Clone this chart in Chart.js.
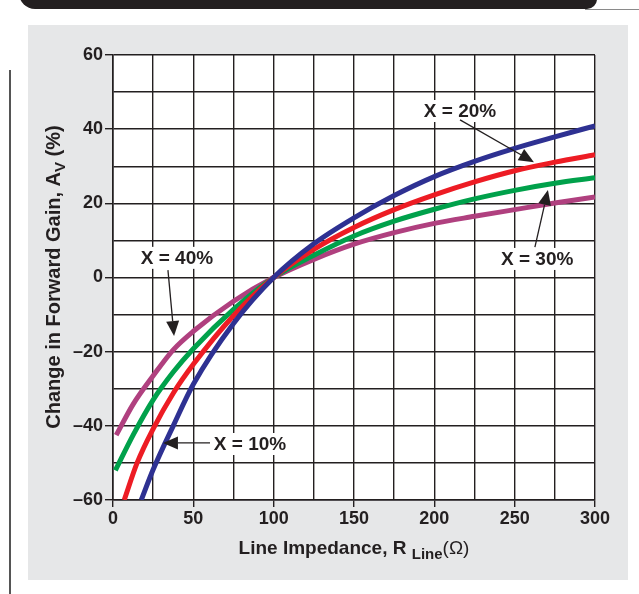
<!DOCTYPE html>
<html>
<head>
<meta charset="utf-8">
<script src="https://cdn.jsdelivr.net/npm/chart.js@4"></script>
<style>
  body { margin: 0; background: #fff; }
  #wrap { position: relative; width: 639px; height: 594px; overflow: hidden; }
  .header { position: absolute; left: 19px; top: -12px; width: 578px; height: 21px; background: #231f20; border-radius: 0 0 10px 16px; }
  .rule { position: absolute; left: 585px; top: 9px; width: 54px; height: 1px; background: #8a8a8a; }
  .panel { position: absolute; left: 28px; top: 25px; width: 600px; height: 555px; background: #e6e7e8; }
  .side { position: absolute; left: 9px; top: 70px; width: 2px; height: 524px; background: #555; }
  canvas { position: absolute; left: 0; top: 0; }
</style>
</head>
<body>
<div id="wrap">
  <div class="header"></div>
  <div class="rule"></div>
  <div class="panel"></div>
  <div class="side"></div>
  <canvas id="gainChart" width="639" height="594"></canvas>
</div>
<script>
// Line impedance (ohm) and change in gain (%) for each X value
const r10 = [17.6, 25, 37.5, 50, 75, 100, 125, 150, 175, 200, 225, 250, 275, 300];
const a10 = [-60, -51.8, -40, -28.8, -12.4, 0, 9.1, 16.1, 22.1, 27.2, 31.3, 34.8, 37.9, 40.9];

const r20 = [7, 15, 25, 37.5, 50, 75, 100, 125, 150, 175, 200, 225, 250, 275, 300];
const a20 = [-60, -50, -40.8, -31.2, -23.4, -10.3, 0, 7.6, 13.5, 18.3, 22.3, 25.8, 28.8, 31.1, 33.1];

const r30 = [1.5, 12.5, 25, 37.5, 50, 75, 100, 125, 150, 175, 200, 225, 250, 275, 300];
const a30 = [-52, -42.5, -33, -25.5, -19.2, -8.6, 0, 6.0, 11.2, 15.2, 18.4, 21.2, 23.5, 25.4, 26.9];

const r40 = [2, 12.5, 25, 37.5, 50, 75, 100, 125, 150, 175, 200, 225, 250, 275, 300];
const a40 = [-42.5, -34.2, -26.5, -19.5, -14.5, -6.4, 0, 4.9, 9.0, 12.1, 14.6, 16.5, 18.3, 20.1, 21.7];

const xTicks = [0, 50, 100, 150, 200, 250, 300];
const yTicks = [-60, -40, -20, 0, 20, 40, 60];

const ink = '#231f20';
const face = '"Liberation Sans", Arial, sans-serif';
const pair = (xs, ys) => xs.map((x, i) => ({ x: x, y: ys[i] }));

function series(label, xs, ys, color) {
  return {
    label: label,
    data: pair(xs, ys),
    borderColor: color,
    borderWidth: 5,
    pointRadius: 0,
    fill: false,
    cubicInterpolationMode: 'monotone'
  };
}

// callouts in data units: label centre, arrow start, arrow tip
const notes = [
  { text: 'X = 20%', at: [216, 44.9], from: [216, 42.5], to: [262, 31.1] },
  { text: 'X = 30%', at: [264, 5], from: [262.6, 8.2], to: [270.7, 23.6] },
  { text: 'X = 40%', at: [39.8, 5.3], from: [34.2, 2], to: [38, -15.8] },
  { text: 'X = 10%', at: [85.3, -44.9], from: [60.4, -44.6], to: [31.1, -44.6] }
];

const plotBg = {
  id: 'plotBg',
  beforeDraw(chart) {
    const { ctx, chartArea: a } = chart;
    ctx.save();
    ctx.fillStyle = '#fff';
    ctx.fillRect(a.left, a.top, a.right - a.left, a.bottom - a.top);
    ctx.restore();
  }
};

function arrow(ctx, x1, y1, x2, y2) {
  const ang = Math.atan2(y2 - y1, x2 - x1);
  const len = 15, half = 6.5;
  ctx.beginPath();
  ctx.moveTo(x1, y1);
  ctx.lineTo(x2 - Math.cos(ang) * len, y2 - Math.sin(ang) * len);
  ctx.stroke();
  ctx.beginPath();
  ctx.moveTo(x2, y2);
  ctx.lineTo(x2 - Math.cos(ang) * len - Math.sin(ang) * half, y2 - Math.sin(ang) * len + Math.cos(ang) * half);
  ctx.lineTo(x2 - Math.cos(ang) * len + Math.sin(ang) * half, y2 - Math.sin(ang) * len - Math.cos(ang) * half);
  ctx.closePath();
  ctx.fill();
}

const extras = {
  id: 'extras',
  afterDraw(chart) {
    const { ctx, scales: { x, y }, chartArea: a } = chart;
    ctx.save();
    ctx.strokeStyle = ink;
    ctx.lineWidth = 1.3;

    // callouts on white boxes
    ctx.font = 'bold 19px ' + face;
    ctx.textAlign = 'center';
    ctx.textBaseline = 'middle';
    notes.forEach(n => {
      const px = x.getPixelForValue(n.at[0]), py = y.getPixelForValue(n.at[1]);
      const tw = ctx.measureText(n.text).width;
      ctx.fillStyle = '#fff';
      ctx.fillRect(px - tw / 2 - 4, py - 11, tw + 8, 22);
      ctx.fillStyle = ink;
      ctx.fillText(n.text, px, py + 1);
      arrow(ctx, x.getPixelForValue(n.from[0]), y.getPixelForValue(n.from[1]),
        x.getPixelForValue(n.to[0]), y.getPixelForValue(n.to[1]));
    });

    // x title with subscript
    const parts = [
      ['bold 19px ' + face, 'Line Impedance, R ', 0],
      ['bold 15px ' + face, 'Line', 5],
      ['19px ' + face, '(\u03A9)', 0]
    ];
    let w = 0;
    parts.forEach(p => { ctx.font = p[0]; w += ctx.measureText(p[1]).width; });
    let cx = (a.left + a.right) / 2 - w / 2;
    ctx.textAlign = 'left';
    ctx.textBaseline = 'alphabetic';
    parts.forEach(p => {
      ctx.font = p[0];
      ctx.fillText(p[1], cx, 554 + p[2]);
      cx += ctx.measureText(p[1]).width;
    });

    // y title, rotated
    const yparts = [
      ['bold 20px ' + face, 'Change in Forward Gain, A', 0],
      ['bold 15px ' + face, 'V', 5],
      ['bold 20px ' + face, ' (%)', 0]
    ];
    w = 0;
    yparts.forEach(p => { ctx.font = p[0]; w += ctx.measureText(p[1]).width; });
    ctx.translate(60, 277);
    ctx.rotate(-Math.PI / 2);
    cx = -w / 2;
    yparts.forEach(p => {
      ctx.font = p[0];
      ctx.fillText(p[1], cx, p[2]);
      cx += ctx.measureText(p[1]).width;
    });
    ctx.restore();
  }
};

const dash = v => (v < 0 ? '\u2013' + Math.abs(v) : String(v));

new Chart(document.getElementById('gainChart'), {
  type: 'line',
  data: {
    datasets: [
      series('X = 10%', r10, a10, '#2e3192'),
      series('X = 20%', r20, a20, '#ed1c24'),
      series('X = 30%', r30, a30, '#00a14b'),
      series('X = 40%', r40, a40, '#b0407f')
    ]
  },
  options: {
    responsive: false,
    animation: false,
    layout: { padding: { top: 55, right: 44, left: 0, bottom: 0 } },
    plugins: { legend: { display: false }, tooltip: { enabled: false } },
    scales: {
      x: {
        type: 'linear',
        min: 0,
        max: 300,
        afterFit: s => { s.height = 94; },
        grid: {
          color: ink,
          lineWidth: 1.4,
          tickLength: 7,
          tickColor: c => (xTicks.includes(c.tick && c.tick.value) ? ink : 'rgba(0,0,0,0)')
        },
        border: { color: ink, width: 1.6 },
        ticks: {
          stepSize: 25,
          padding: 1,
          maxRotation: 0,
          autoSkip: false,
          color: ink,
          font: { family: face, size: 18, weight: 'bold' },
          callback: v => (xTicks.includes(v) ? String(v) : '')
        }
      },
      y: {
        min: -60,
        max: 60,
        afterFit: s => { s.width = 113; },
        grid: {
          color: ink,
          lineWidth: 1.4,
          tickLength: 8,
          tickColor: c => (yTicks.includes(c.tick && c.tick.value) ? ink : 'rgba(0,0,0,0)')
        },
        border: { color: ink, width: 1.6 },
        ticks: {
          stepSize: 10,
          padding: 2,
          autoSkip: false,
          color: ink,
          font: { family: face, size: 18, weight: 'bold' },
          callback: v => (yTicks.includes(v) ? dash(v) : '')
        }
      }
    }
  },
  plugins: [plotBg, extras]
});
</script>
</body>
</html>
